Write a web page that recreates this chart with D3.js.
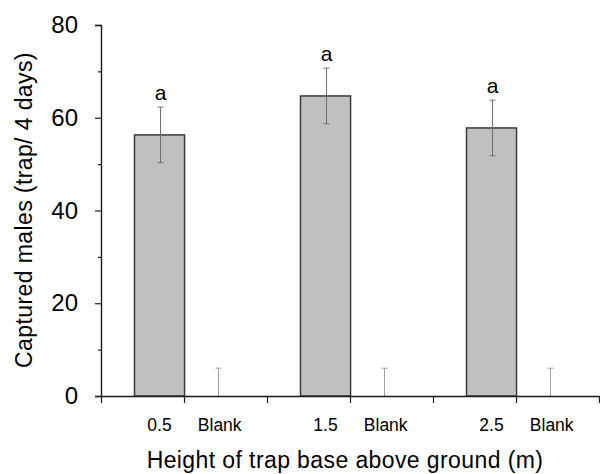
<!DOCTYPE html>
<html><head><meta charset="utf-8">
<script src="https://cdn.jsdelivr.net/npm/d3@7"></script>
<style>body{margin:0;background:#fff}svg{display:block}text{font-family:"Liberation Sans",Arial,sans-serif;fill:#000}</style>
</head><body><svg id="c" width="600" height="474"></svg>
<script>
const heights = ["0.5", "1.5", "2.5"];
const groupKeys = ["trap", "blank"];
const blankLabel = "Blank";
const means = [56.3, 64.7, 57.8];
const errors = [6.0, 6.0, 6.0];
const blankMeans = [0, 0, 0];
const blankErrors = [6, 6, 6];
const letters = ["a", "a", "a"];
const yMajor = [0, 20, 40, 60, 80];
const yMinor = [10, 30, 50, 70];
const xTickSlots = [0, 1, 2, 3, 4, 5, 6];
const yTitle = "Captured males (trap/ 4 days)";
const xTitle = "Height of trap base above ground (m)";

const svg = d3.select("#c");
const L = 101, R = 599, T = 25, B = 396;
const y = d3.scaleLinear().domain([0, 80]).range([B, T]);
const x0 = d3.scaleBand().domain(heights).range([L, R]).padding(0);
const x1 = d3.scaleBand().domain(groupKeys).range([0, x0.bandwidth()])
  .paddingInner(0.14).paddingOuter(0.496).align(0.58);
const slot = d3.scaleLinear().domain([0, 6]).range([L, R]);

const data = heights.map((h, i) => ({h, m: means[i], e: errors[i], bm: blankMeans[i], be: blankErrors[i], l: letters[i]}));

// bars
svg.append("g").selectAll("rect").data(data).join("rect")
  .attr("x", d => x0(d.h) + x1("trap"))
  .attr("y", d => y(d.m))
  .attr("width", x1.bandwidth())
  .attr("height", d => y(0) - y(d.m))
  .attr("fill", "#c0c0c0").attr("stroke", "#3a3a3a").attr("stroke-width", 1.5);

// error bars for treatment
const cap = 3;
const eg = svg.append("g").attr("stroke", "#6e6e6e").attr("stroke-width", 1);
data.forEach(d => {
  const cx = Math.round(x0(d.h) + x1("trap") + x1.bandwidth() / 2) + 0.5;
  const t = y(d.m + d.e), b = y(d.m - d.e);
  eg.append("line").attr("x1", cx).attr("x2", cx).attr("y1", t).attr("y2", b);
  eg.append("line").attr("x1", cx - cap).attr("x2", cx + cap).attr("y1", t).attr("y2", t);
  eg.append("line").attr("x1", cx - cap).attr("x2", cx + cap).attr("y1", b).attr("y2", b);
});
// blank error bars
const bg = svg.append("g").attr("stroke", "#a0a0a0").attr("stroke-width", 1);
data.forEach(d => {
  const cx = Math.round(x0(d.h) + x1("blank") + x1.bandwidth() / 2) + 0.5;
  const t = y(d.bm + d.be);
  bg.append("line").attr("x1", cx).attr("x2", cx).attr("y1", t).attr("y2", y(d.bm));
  bg.append("line").attr("x1", cx - cap).attr("x2", cx + cap).attr("y1", t).attr("y2", t);
});

// letters
svg.append("g").selectAll("text").data(data).join("text")
  .attr("x", d => x0(d.h) + x1("trap") + x1.bandwidth() / 2 + 1)
  .attr("y", d => y(d.m + d.e) - 7)
  .attr("text-anchor", "middle").attr("font-size", 21).text(d => d.l);

// y axis
const yAxis = svg.append("g").attr("transform", `translate(${L},0)`)
  .call(d3.axisLeft(y).tickValues(yMajor).tickSize(6).tickPadding(17).tickFormat(d3.format("d")));
yAxis.select(".domain").attr("stroke", "#1a1a1a").attr("stroke-width", 1.4);
yAxis.selectAll(".tick line").attr("stroke", "#1a1a1a").attr("stroke-width", 1.2);
yAxis.selectAll(".tick text").attr("font-size", 24).attr("font-family", "Liberation Sans, Arial, sans-serif").attr("fill", "#000");
const yMin = svg.append("g").attr("transform", `translate(${L},0)`)
  .call(d3.axisLeft(y).tickValues(yMinor).tickSize(3).tickFormat(""));
yMin.select(".domain").remove();
yMin.selectAll(".tick line").attr("stroke", "#1a1a1a").attr("stroke-width", 1.2);

// x axis
const xAxis = svg.append("g").attr("transform", `translate(0,${B})`)
  .call(d3.axisBottom(slot).tickValues(xTickSlots).tickSize(7).tickSizeOuter(0).tickFormat(""));
xAxis.select(".domain").attr("stroke", "#1a1a1a").attr("stroke-width", 1.5);
xAxis.selectAll(".tick line").attr("stroke", "#1a1a1a").attr("stroke-width", 1.2);

// x category labels
const lg = svg.append("g");
data.forEach(d => {
  lg.append("text").attr("x", x0(d.h) + x1("trap") + x1.bandwidth() / 2).attr("y", 431)
    .attr("text-anchor", "middle").attr("font-size", 17.5).text(d.h);
  lg.append("text").attr("x", x0(d.h) + x1("blank") + x1.bandwidth() / 2 + 2).attr("y", 431)
    .attr("text-anchor", "middle").attr("font-size", 17.5).text(blankLabel);
});

// titles
svg.append("text").attr("x", 345).attr("y", 468).attr("text-anchor", "middle")
  .attr("font-size", 23).attr("letter-spacing", 0.4).text(xTitle);
svg.append("text").attr("transform", "translate(32,210) rotate(-90)").attr("text-anchor", "middle")
  .attr("font-size", 23).attr("letter-spacing", 0.4).text(yTitle);
</script></body></html>
